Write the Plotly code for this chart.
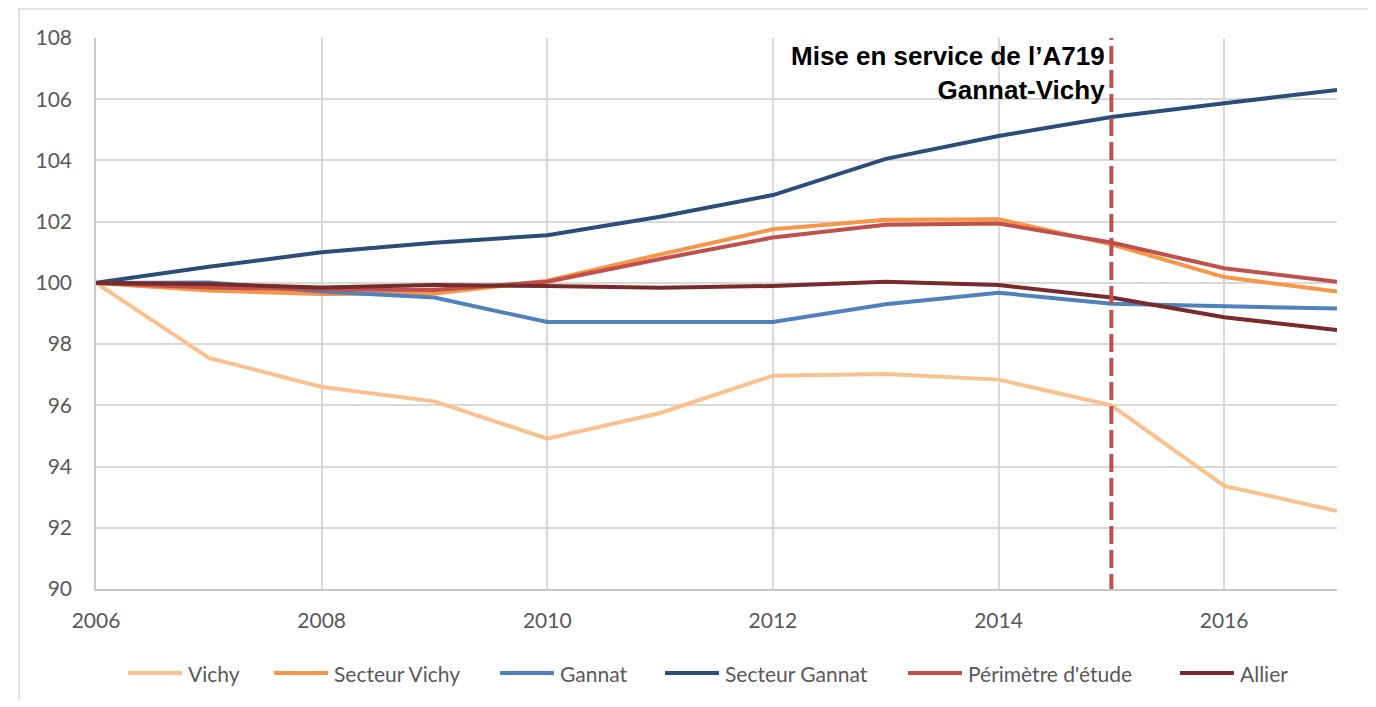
import plotly.graph_objects as go

years = list(range(2006, 2018))

vichy = [100, 97.55, 96.6, 96.13, 94.91, 95.75, 96.97, 97.02, 96.84, 96.0, 93.37, 92.55]
secteur_vichy = [100, 99.75, 99.64, 99.65, 100.07, 100.93, 101.75, 102.06, 102.08, 101.26, 100.19, 99.72]
gannat = [100, 100.01, 99.72, 99.52, 98.72, 98.72, 98.72, 99.3, 99.68, 99.32, 99.23, 99.16]
secteur_gannat = [100, 100.53, 101.0, 101.31, 101.56, 102.16, 102.87, 104.05, 104.8, 105.42, 105.87, 106.3]
perimetre = [100, 99.85, 99.78, 99.77, 100.04, 100.78, 101.48, 101.9, 101.94, 101.32, 100.48, 100.04]
allier = [100, 99.96, 99.85, 99.93, 99.9, 99.84, 99.9, 100.04, 99.93, 99.52, 98.88, 98.46]

names = ["Vichy", "Secteur Vichy", "Gannat", "Secteur Gannat", "Périmètre d'étude", "Allier"]
series = [vichy, secteur_vichy, gannat, secteur_gannat, perimetre, allier]
colors = ["#FAC08F", "#F79646", "#4F81BD", "#2C4D7A", "#C0504D", "#772B2A"]

event_year = 2015
event_label = "Mise en service de l’A719<br>Gannat-Vichy"

# page body has an 8px margin: figure origin sits at (8, 8) on screen
OFF = 8
W, H = 1360, 691
ML, MR, MT, MB = 88, 31, 30, 110
PW = W - ML - MR
PH = H - MT - MB

legend_px = [128, 274, 500, 665, 908, 1180]   # screen x of each legend line start
legend_py = 673                                # screen y of legend centre
legend_len = 54


def px_to_paper_x(px):
    return (px - OFF - ML) / PW


def py_to_paper_y(py):
    return (PH - (py - OFF - MT)) / PH


fig = go.Figure()
for n, s, c in zip(names, series, colors):
    fig.add_trace(go.Scatter(x=years, y=s, name=n, mode="lines",
                             line=dict(color=c, width=4), showlegend=False))

tick_font = dict(family="Lato, Open Sans, sans-serif", size=21, color="#595959")

# legend drawn as key lines + text labels below the plot
ly = py_to_paper_y(legend_py)
for n, c, px in zip(names, colors, legend_px):
    fig.add_shape(type="line", xref="paper", yref="paper",
                  x0=px_to_paper_x(px), x1=px_to_paper_x(px + legend_len),
                  y0=ly, y1=ly, line=dict(color=c, width=4))
    fig.add_annotation(x=px_to_paper_x(px + legend_len + 4), y=ly,
                       xref="paper", yref="paper", xanchor="left", yanchor="middle",
                       text=n, showarrow=False, font=tick_font)

fig.update_layout(
    width=W, height=H,
    margin=dict(l=ML, r=MR, t=MT, b=MB),
    paper_bgcolor="white", plot_bgcolor="white",
    showlegend=False,
)

fig.update_xaxes(range=[2006, 2017], tickmode="linear", tick0=2006, dtick=2,
                 showgrid=True, gridcolor="#D9D9D9", gridwidth=1.5,
                 showline=True, linecolor="#C8C8C8", linewidth=1.5,
                 zeroline=False, tickfont=tick_font, ticks="",
                 ticklabelstandoff=12)
fig.update_yaxes(range=[90, 108], tickmode="linear", tick0=90, dtick=2,
                 showgrid=True, gridcolor="#D9D9D9", gridwidth=1.5,
                 showline=True, linecolor="#C8C8C8", linewidth=1.5,
                 zeroline=False, tickfont=tick_font, ticks="",
                 ticklabelstandoff=18)

# outer frame
fig.add_shape(type="rect", xref="paper", yref="paper",
              x0=px_to_paper_x(19), x1=1.2, y0=-0.5, y1=py_to_paper_y(9),
              line=dict(color="#D9D9D9", width=1.5), layer="below")

# event vertical dashed line
fig.add_shape(type="line", xref="x", yref="y", x0=event_year, x1=event_year,
              y0=89.9, y1=108.2, line=dict(color="#C0504D", width=4, dash="18px,6px"))

fig.add_annotation(x=event_year, y=108, xref="x", yref="y",
                   xanchor="right", yanchor="top", xshift=-4, yshift=-1,
                   text=event_label, showarrow=False, align="right",
                   font=dict(family="Liberation Sans, Arial, sans-serif", size=26,
                             color="black", weight="bold"))

fig.write_html("out.html")
